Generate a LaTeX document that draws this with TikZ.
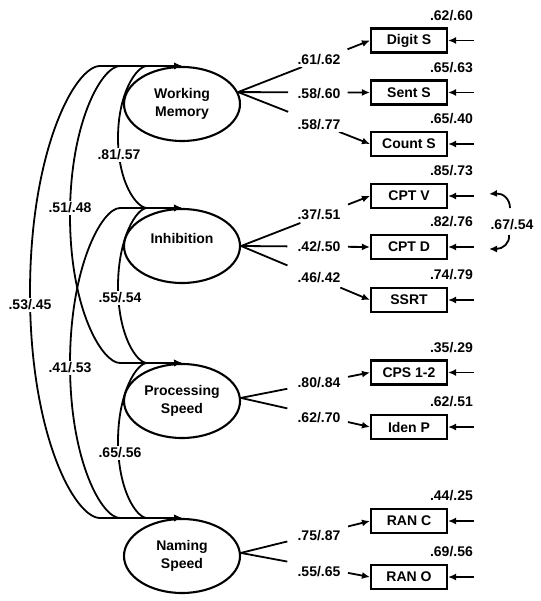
\documentclass[tikz,border=0pt]{standalone}
\usepackage{fontspec}
\setmainfont{Liberation Sans}
\usetikzlibrary{shapes.geometric,arrows.meta,calc}
\newcommand{\labfont}{\fontsize{14}{17.5}\selectfont\bfseries}
\begin{document}
\begin{tikzpicture}[x=1pt,y=-1pt,
  latent/.style={ellipse, draw, line width=2.1pt, minimum width=116pt, minimum height=74pt, inner sep=0pt, align=center, font=\labfont},
  manifest/.style={rectangle, draw, line width=2.1pt, minimum width=76pt, minimum height=24pt, inner sep=0pt, font=\labfont},
  conn/.style={line width=1.8pt},
  arr/.style={conn, -{Latex[length=8pt,width=7pt]}},
  corr/.style={conn, {Latex[length=8pt,width=7pt]}-{Latex[length=8pt,width=7pt]}},
  coef/.style={font=\labfont, inner sep=1.5pt, fill=white},
  resid/.style={font=\labfont, inner sep=1pt, anchor=base east}]
\useasboundingbox (0,0) rectangle (540,601);

% latent variables
\node[latent] (wm) at (182,104) {Working\\Memory};
\node[latent] (inh) at (182,246) {};
\node[font=\labfont, inner sep=0pt] (inhtxt) at (182,238) {Inhibition};
\node[latent] (ps) at (182,401) {Processing\\Speed};
\node[latent] (ns) at (182,556) {Naming\\Speed};

% manifest variables
\node[manifest] (ds) at (409,40.5) {Digit S};
\node[manifest] (ss) at (409,92.5) {Sent S};
\node[manifest] (cs) at (409,144) {Count S};
\node[manifest] (cv) at (409,196) {CPT V};
\node[manifest] (cd) at (409,247) {CPT D};
\node[manifest] (sr) at (409,300) {SSRT};
\node[manifest] (cp) at (409,372.5) {CPS 1-2};
\node[manifest] (ip) at (409,427) {Iden P};
\node[manifest] (rc) at (409,521) {RAN C};
\node[manifest] (ro) at (409,577) {RAN O};

% loadings
\foreach \src/\dst/\a/\b in {wm.12/ds/0.485/0.83, wm.12/ss/0.38/0.83, wm.12/cs/0.38/0.765,
  inh.east/cv/0.46/0.83, inh.east/cd/0.36/0.83, inh.east/sr/0.36/0.77,
  ps.3/cp/0.36/0.83, ps.3/ip/0.36/0.83, ns.3/rc/0.36/0.83, ns.3/ro/0.36/0.83}{
  \draw[conn] (\src) -- ($(\src)!\a!(\dst.west)$);
  \draw[arr] ($(\src)!\b!(\dst.west)$) -- (\dst.west);
}
\node[coef] (l1) at (319,60) {.61/.62};
\node[coef] (l2) at (319,94) {.58/.60};
\node[coef] (l3) at (319,125) {.58/.77};
\node[coef] (l4) at (319,215) {.37/.51};
\node[coef] (l5) at (319,247) {.42/.50};
\node[coef] (l6) at (319,278) {.46/.42};
\node[coef] (l7) at (319,383) {.80/.84};
\node[coef] (l8) at (319,418) {.62/.70};
\node[coef] (l9) at (319,536) {.75/.87};
\node[coef] (l10) at (319,572) {.55/.65};

% residuals
\foreach \b/\x/\y in {ds/.62/.60, ss/.65/.63, cs/.65/.40, cv/.85/.73, cd/.82/.76, sr/.74/.79,
  cp/.35/.29, ip/.62/.51, rc/.44/.25, ro/.69/.56}{
  \coordinate (e-\b) at ($(\b.east)+(26,0)$);
  \draw[arr] (e-\b) -- (\b.east);
  \node[resid] (r-\b) at ($(\b.north east)+(26,-7)$) {\x/\y};
}

% correlated residuals
\coordinate (cvr) at (489,194);
\coordinate (cvm) at (510,208);
\coordinate (cdm) at (509,235);
\coordinate (cdr) at (489,249);
\draw[arr] (cvm) .. controls (510,199) and (503,193) .. (cvr);
\draw[arr] (cdm) .. controls (510,243) and (503,249) .. (cdr);
\node[font=\labfont, inner sep=1pt] (rcorr) at (512,225) {.67/.54};

% factor correlations
\draw[corr] (wm.north) -- (147,66) .. controls (136.6,66) and (118,93) .. (118,138)
   .. controls (118,182.7) and (136.6,208) .. (147,208) -- (inh.north);
\draw[corr] (wm.north) -- (120,66) .. controls (102,66) and (70,122) .. (70,215.5)
   .. controls (70,309) and (102,363) .. (120,363) -- (ps.north);
\draw[corr] (wm.north) -- (100,66) .. controls (74.8,66) and (30,150.6) .. (30,293)
   .. controls (30,435.4) and (74.8,518) .. (100,518) -- (ns.north);
\draw[corr] (inh.north) -- (120,208) .. controls (102,208) and (70,266.4) .. (70,364)
   .. controls (70,461.6) and (102,518) .. (120,518) -- (ns.north);
\draw[corr] (inh.north) -- (147,208) .. controls (136.6,208) and (118,237.7) .. (118,286.5)
   .. controls (118,335.3) and (136.6,363) .. (147,363) -- (ps.north);
\draw[corr] (ps.north) -- (147,363) .. controls (136.6,363) and (118,392.7) .. (118,441.5)
   .. controls (118,490.3) and (136.6,518) .. (147,518) -- (ns.north);

\node[coef] (c1) at (119,155) {.81/.57};
\node[coef] (c2) at (70,208) {.51/.48};
\node[coef] (c3) at (30,305) {.53/.45};
\node[coef] (c4) at (70,368) {.41/.53};
\node[coef] (c5) at (120,298) {.55/.54};
\node[coef] (c6) at (120,453) {.65/.56};
\end{tikzpicture}
\end{document}
